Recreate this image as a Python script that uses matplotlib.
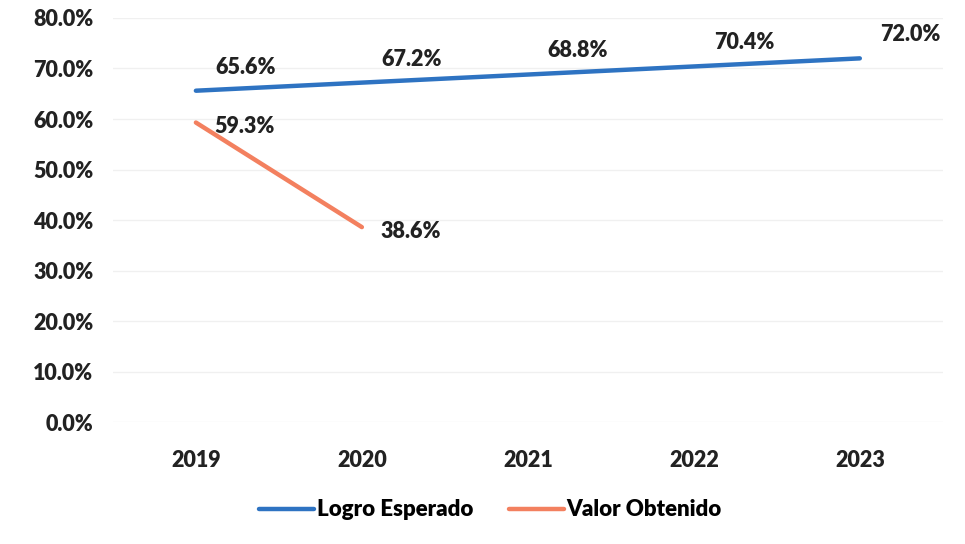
import matplotlib.pyplot as plt
from matplotlib.ticker import PercentFormatter

plt.rcParams['font.family'] = ['Lato', 'DejaVu Sans']

years = ['2019', '2020', '2021', '2022', '2023']
esperado = [65.6, 67.2, 68.8, 70.4, 72.0]
obtenido = [59.3, 38.6]
label_esperado = ['65.6%', '67.2%', '68.8%', '70.4%', '72.0%']
label_obtenido = ['59.3%', '38.6%']

fs = 15.5
fw = 'heavy'

fig = plt.figure(figsize=(9.65, 5.44), dpi=100)
ax = fig.add_axes([0.117, 0.224, 0.86, 0.743])

x = list(range(len(years)))
ax.plot(x, esperado, color='#2E73C2', lw=3.2, solid_capstyle='round', label='Logro Esperado')
ax.plot(x[:len(obtenido)], obtenido, color='#F3805F', lw=3.2, solid_capstyle='round', label='Valor Obtenido')

# etiquetas de datos (offset en puntos, 1pt = 1.39px)
for xi, yi, t in zip(x, esperado, label_esperado):
    ax.annotate(t, (xi, yi), xytext=(36, 17), textcoords='offset points', ha='center', va='center',
                fontsize=fs, fontweight=fw, color='#222222')
for xi, yi, t in zip(x, obtenido, label_obtenido):
    ax.annotate(t, (xi, yi), xytext=(35, -3), textcoords='offset points', ha='center', va='center',
                fontsize=fs, fontweight=fw, color='#222222')

ax.set_xlim(-0.5, 4.5)
ax.set_ylim(0, 80)
ax.set_yticks(range(0, 81, 10))
ax.yaxis.set_major_formatter(PercentFormatter(decimals=1))
ax.set_xticks(x)
ax.set_xticklabels(years)
ax.grid(axis='y', color='#F0F0F0', lw=1)
ax.set_axisbelow(True)
for s in ax.spines.values():
    s.set_visible(False)
ax.tick_params(length=0, labelsize=fs, colors='#222222')
for lab in ax.get_xticklabels() + ax.get_yticklabels():
    lab.set_fontweight(fw)
ax.tick_params(axis='y', pad=14)
ax.tick_params(axis='x', pad=20)

fig.legend(loc='center', bbox_to_anchor=(0.508, 0.0625), ncol=2, frameon=False,
           prop={'size': 16, 'weight': fw}, handlelength=2.5, handletextpad=0.1, columnspacing=1.6)

fig.savefig('out.png', dpi=100)
